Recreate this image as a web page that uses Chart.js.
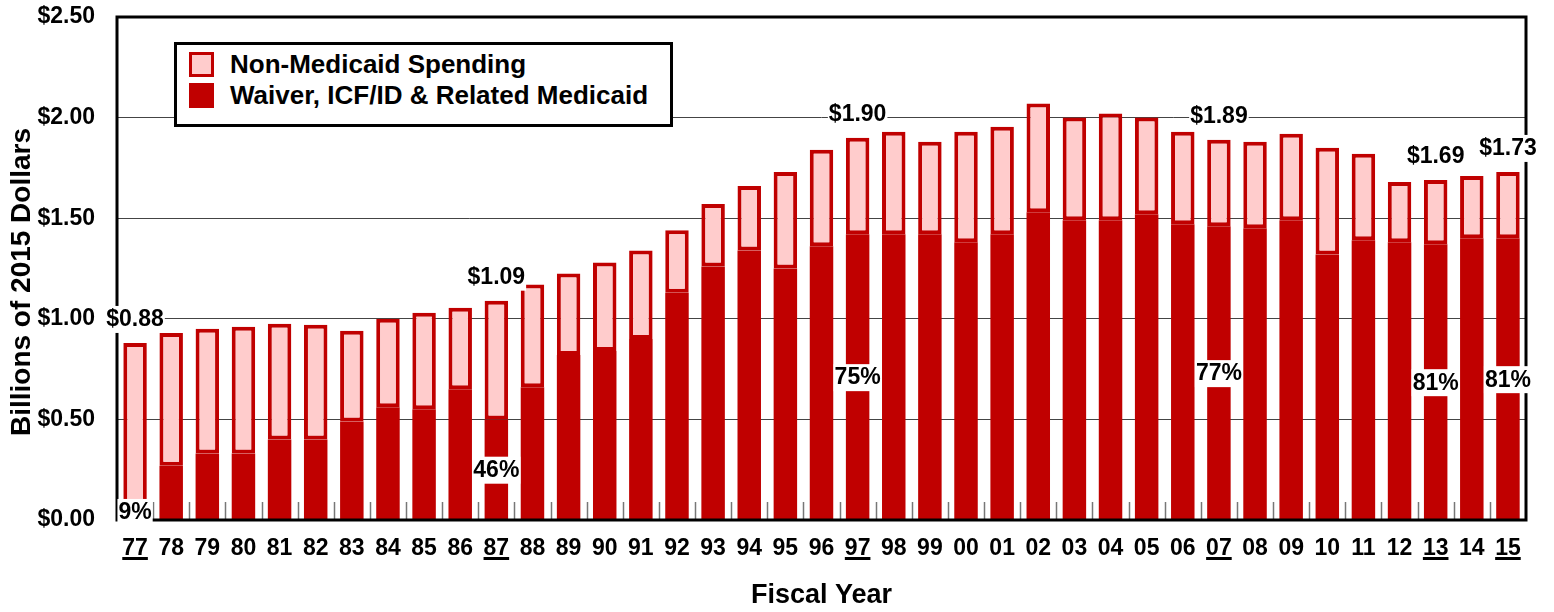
<!DOCTYPE html>
<html>
<head>
<meta charset="utf-8">
<script src="https://cdn.jsdelivr.net/npm/chart.js@4.4.1/dist/chart.umd.min.js"></script>
<style>
  html, body { margin: 0; padding: 0; background: #fff; }
  #wrap { position: relative; width: 1554px; height: 612px; }
  #legend {
    position: absolute; left: 174px; top: 42px; width: 499px; height: 85px;
    box-sizing: border-box; border: 3px solid #000; background: #fff;
    font: bold 26px "Liberation Sans", Arial, sans-serif; color: #000;
  }
  .item { position: absolute; left: 12px; height: 25px; display: flex; align-items: center; white-space: nowrap; }
  .swatch { width: 25px; height: 25px; box-sizing: border-box; margin-right: 16px; }
</style>
</head>
<body>
<div id="wrap">
  <canvas id="chart" width="1554" height="612"></canvas>
  <div id="legend"></div>
</div>
<script>
const years = ['77','78','79','80','81','82','83','84','85','86','87','88','89','90','91','92','93','94','95','96',
  '97','98','99','00','01','02','03','04','05','06','07','08','09','10','11','12','13','14','15'];

// total spending, billions of 2015 dollars
const total = [0.88, 0.93, 0.95, 0.96, 0.975, 0.97, 0.94, 1.00, 1.03, 1.055, 1.09, 1.17, 1.225, 1.28, 1.34, 1.44,
  1.57, 1.66, 1.73, 1.84, 1.90, 1.93, 1.88, 1.93, 1.955, 2.07, 2.00, 2.02, 2.00, 1.93, 1.89, 1.88, 1.92, 1.85,
  1.82, 1.68, 1.69, 1.71, 1.73];

// waiver, ICF/ID & related medicaid part
const medicaid = [0.08, 0.27, 0.33, 0.33, 0.40, 0.40, 0.49, 0.56, 0.55, 0.65, 0.50, 0.66, 0.82, 0.84, 0.90, 1.13,
  1.26, 1.34, 1.25, 1.36, 1.42, 1.42, 1.42, 1.38, 1.42, 1.53, 1.49, 1.49, 1.52, 1.47, 1.46, 1.45, 1.49, 1.32,
  1.39, 1.38, 1.37, 1.40, 1.40];

const nonMedicaid = total.map((t, i) => +(t - medicaid[i]).toFixed(3));

// years that get the $ and % callouts and an underlined tick
const callouts = ['77', '87', '97', '07', '13', '15'];

const yTicks = [0, 0.5, 1.0, 1.5, 2.0, 2.5];

const DARK = '#C00000';
const PINK = '#FFCCCC';
const FONT = '"Liberation Sans", Arial, sans-serif';

Chart.defaults.font.family = FONT;
Chart.defaults.color = '#000';

const overlay = {
  id: 'overlay',
  afterDatasetsDraw(chart) {
    const { ctx, chartArea: a, scales: { x, y } } = chart;
    const step = (a.right - a.left) / years.length;
    ctx.save();

    // small ticks between categories, inside the plot
    ctx.strokeStyle = '#777';
    ctx.lineWidth = 1.5;
    for (let i = 1; i < years.length; i++) {
      const px = Math.round(x.getPixelForValue(i) - step / 2) + 0.5;
      ctx.beginPath();
      ctx.moveTo(px, a.bottom);
      ctx.lineTo(px, a.bottom - 18);
      ctx.stroke();
    }

    // frame
    ctx.strokeStyle = '#000';
    ctx.lineWidth = 3;
    ctx.strokeRect(a.left, a.top, a.right - a.left, a.bottom - a.top);

    // callout labels with white boxes
    ctx.font = 'bold 23px ' + FONT;
    ctx.textAlign = 'center';
    ctx.textBaseline = 'middle';
    const box = (txt, cx, cy) => {
      const w = ctx.measureText(txt).width;
      ctx.fillStyle = '#fff';
      ctx.fillRect(cx - w / 2 - 1, cy - 13, w + 2, 27);
      ctx.fillStyle = '#000';
      ctx.fillText(txt, cx, cy + 1);
    };
    callouts.forEach(yr => {
      const i = years.indexOf(yr);
      const cx = x.getPixelForValue(i);
      const pct = Math.round(medicaid[i] / total[i] * 100) + '%';
      box(pct, cx, y.getPixelForValue(medicaid[i] / 2));
      box('$' + total[i].toFixed(2), cx, y.getPixelForValue(total[i]) - 24);
    });
    ctx.restore();
  },
  afterDraw(chart) {
    const { ctx, scales: { x } } = chart;
    ctx.save();
    // underline the callout years
    ctx.font = 'bold 23px ' + FONT;
    ctx.fillStyle = '#000';
    callouts.forEach(yr => {
      const i = years.indexOf(yr);
      const w = ctx.measureText(yr).width;
      ctx.fillRect(x.getPixelForValue(i) - w / 2, 557, w, 3);
    });
    // y axis title
    ctx.translate(22, 282);
    ctx.rotate(-Math.PI / 2);
    ctx.font = 'bold 28px ' + FONT;
    ctx.textAlign = 'center';
    ctx.textBaseline = 'middle';
    ctx.fillText('Billions of 2015 Dollars', 0, 0);
    ctx.restore();
  }
};

const chart = new Chart(document.getElementById('chart'), {
  type: 'bar',
  data: {
    labels: years,
    datasets: [
      {
        label: 'Waiver, ICF/ID & Related Medicaid',
        data: medicaid,
        backgroundColor: DARK,
        borderWidth: 0,
        stack: 's'
      },
      {
        label: 'Non-Medicaid Spending',
        data: nonMedicaid,
        backgroundColor: PINK,
        borderColor: DARK,
        borderWidth: 4,
        borderSkipped: false,
        stack: 's'
      }
    ]
  },
  options: {
    responsive: false,
    animation: false,
    categoryPercentage: 0.65,
    barPercentage: 1,
    layout: { padding: { top: 17, right: 28, left: 0, bottom: 0 } },
    plugins: {
      legend: { display: false },
      tooltip: { enabled: false }
    },
    scales: {
      x: {
        stacked: true,
        grid: { display: false },
        border: { display: false },
        ticks: { font: { size: 23, weight: 'bold' }, padding: 7, maxRotation: 0, autoSkip: false },
        title: {
          display: true,
          text: 'Fiscal Year',
          font: { size: 27, weight: 'bold' },
          padding: { top: 0, bottom: 0 }
        },
        afterFit: s => { s.height = 92; }
      },
      y: {
        stacked: true,
        min: 0,
        max: 2.5,
        afterBuildTicks: s => { s.ticks = yTicks.map(v => ({ value: v })); },
        grid: { color: '#444', lineWidth: 1, drawTicks: false },
        border: { display: false },
        ticks: {
          font: { size: 23, weight: 'bold' },
          padding: 22,
          callback: v => '$' + Number(v).toFixed(2)
        },
        afterFit: s => {
          s.width = 117;
          s.paddingTop = 0;
          s.paddingBottom = 0;
        }
      }
    }
  },
  plugins: [overlay]
});

// legend box, top entry first
const legend = document.getElementById('legend');
chart.data.datasets.slice().reverse().forEach((ds, k) => {
  const item = document.createElement('div');
  item.className = 'item';
  item.style.top = (7 + k * 31) + 'px';
  const sw = document.createElement('span');
  sw.className = 'swatch';
  sw.style.background = ds.backgroundColor;
  if (ds.borderWidth) sw.style.border = '3px solid ' + ds.borderColor;
  const txt = document.createElement('span');
  txt.textContent = ds.label;
  item.appendChild(sw);
  item.appendChild(txt);
  legend.appendChild(item);
});
</script>
</body>
</html>
